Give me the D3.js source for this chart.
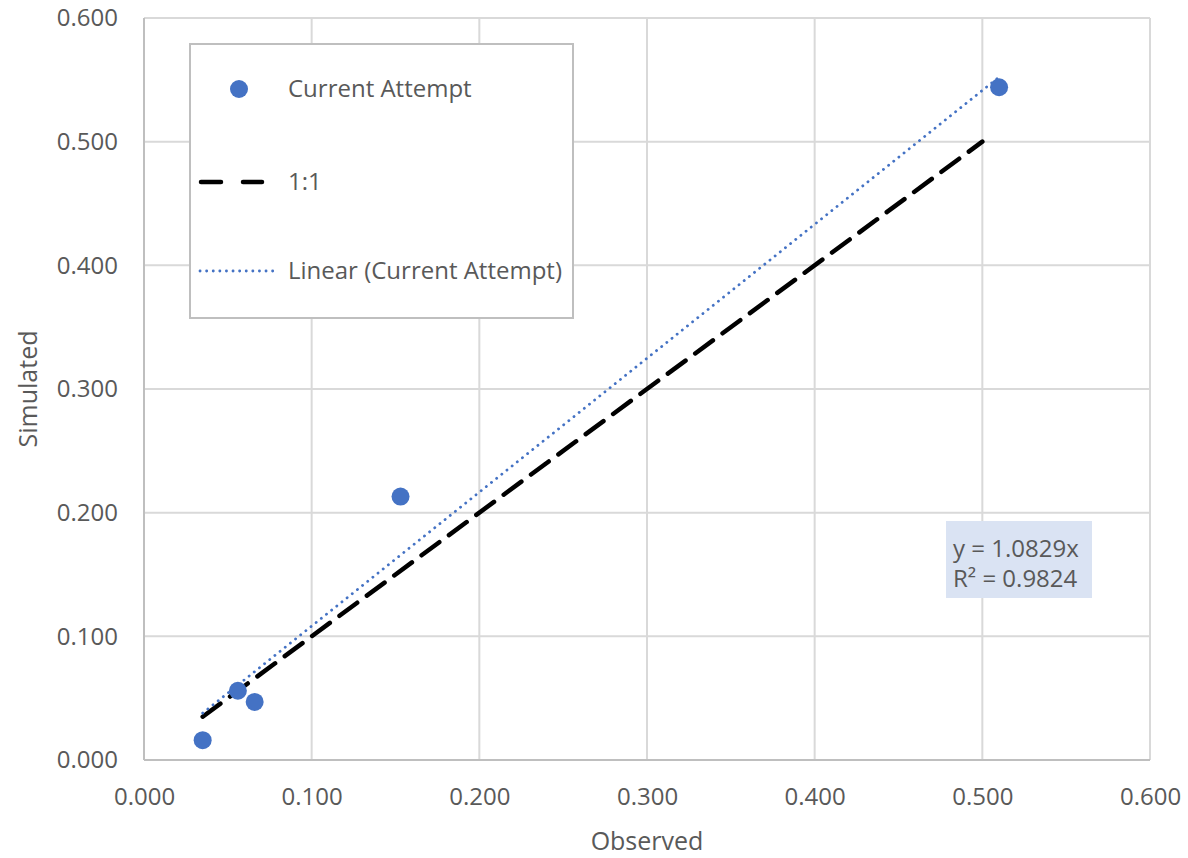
<!DOCTYPE html>
<html><head><meta charset="utf-8">
<script src="https://cdn.jsdelivr.net/npm/d3@7"></script>
<style>body{margin:0;background:#fff}</style>
</head><body>
<svg id="c" width="1188" height="858"></svg>
<script>
const observed = [0.035, 0.056, 0.066, 0.153, 0.510];
const simulated = [0.016, 0.056, 0.047, 0.213, 0.544];
const oneToOne = [0.035, 0.500];
const slope = 1.0829;
const xTicks = [0, 0.1, 0.2, 0.3, 0.4, 0.5, 0.6];
const yTicks = [0, 0.1, 0.2, 0.3, 0.4, 0.5, 0.6];
const legendLabels = ["Current Attempt", "1:1", "Linear (Current Attempt)"];
const eqLines = ["y = 1.0829x", "R\u00b2 = 0.9824"];

const svg = d3.select("#c");
const font = "'Open Sans', 'Noto Sans', sans-serif";
const L = 144, R = 1150, T = 18, B = 760;
const x = d3.scaleLinear().domain([0, 0.6]).range([L, R]);
const y = d3.scaleLinear().domain([0, 0.6]).range([B, T]);
const grid = "#d9d9d9", txt = "#595959", blue = "#4472c4";

// gridlines
svg.append("g").selectAll("line").data(xTicks).join("line")
  .attr("x1", d => x(d)).attr("x2", d => x(d)).attr("y1", T).attr("y2", B)
  .attr("stroke", grid).attr("stroke-width", 2);
svg.append("g").selectAll("line").data(yTicks).join("line")
  .attr("y1", d => y(d)).attr("y2", d => y(d)).attr("x1", L).attr("x2", R)
  .attr("stroke", grid).attr("stroke-width", 2);
// axis lines
svg.append("line").attr("x1", L).attr("x2", L).attr("y1", T).attr("y2", B).attr("stroke", "#bfbfbf").attr("stroke-width", 2);
svg.append("line").attr("x1", L).attr("x2", R).attr("y1", B).attr("y2", B).attr("stroke", "#bfbfbf").attr("stroke-width", 2);

// axes labels via d3 axis
const xa = svg.append("g").attr("transform", `translate(0,${B})`)
  .call(d3.axisBottom(x).tickValues(xTicks).tickFormat(d3.format(".3f")).tickSize(0).tickPadding(28));
const ya = svg.append("g").attr("transform", `translate(${L},0)`)
  .call(d3.axisLeft(y).tickValues(yTicks).tickFormat(d3.format(".3f")).tickSize(0).tickPadding(26));
[xa, ya].forEach(a => {
  a.select(".domain").remove();
  a.selectAll("text").attr("fill", txt).style("font-family", font).style("font-size", "24px");
});

// axis titles
svg.append("text").attr("x", (L + R) / 2).attr("y", 850).attr("text-anchor", "middle")
  .attr("fill", txt).style("font-family", font).style("font-size", "25px").text("Observed");
svg.append("text").attr("transform", `translate(37,${(T + B) / 2}) rotate(-90)`).attr("text-anchor", "middle")
  .attr("fill", txt).style("font-family", font).style("font-size", "25px").text("Simulated");

// 1:1 line
svg.append("line").attr("x1", x(oneToOne[0])).attr("y1", y(oneToOne[0]))
  .attr("x2", x(oneToOne[1])).attr("y2", y(oneToOne[1]))
  .attr("stroke", "#000").attr("stroke-width", 4.5).attr("stroke-dasharray", "22,12").attr("stroke-linecap", "round");

// trendline
const xMin = d3.min(observed), xMax = d3.max(observed);
svg.append("line").attr("x1", x(xMin)).attr("y1", y(slope * xMin))
  .attr("x2", x(xMax)).attr("y2", y(slope * xMax))
  .attr("stroke", blue).attr("stroke-width", 2.8).attr("stroke-dasharray", "0.1,6.5").attr("stroke-linecap", "round");

// points
svg.append("g").selectAll("circle").data(observed).join("circle")
  .attr("cx", d => x(d)).attr("cy", (d, i) => y(simulated[i])).attr("r", 9).attr("fill", blue);

// legend
const lg = svg.append("g");
lg.append("rect").attr("x", 190).attr("y", 44).attr("width", 383).attr("height", 274)
  .attr("fill", "#fff").attr("stroke", "#bfbfbf").attr("stroke-width", 2);
const ly = [89, 182, 271];
lg.append("circle").attr("cx", 239).attr("cy", ly[0]).attr("r", 9).attr("fill", blue);
lg.append("line").attr("x1", 201).attr("x2", 262).attr("y1", ly[1]).attr("y2", ly[1])
  .attr("stroke", "#000").attr("stroke-width", 4.5).attr("stroke-dasharray", "20,22").attr("stroke-linecap", "round");
lg.append("line").attr("x1", 200).attr("x2", 275).attr("y1", ly[2]).attr("y2", ly[2])
  .attr("stroke", blue).attr("stroke-width", 2.8).attr("stroke-dasharray", "0.1,6.5").attr("stroke-linecap", "round");
lg.selectAll("text").data(legendLabels).join("text")
  .attr("x", 288).attr("y", (d, i) => ly[i] + 8).attr("fill", txt)
  .style("font-family", font).style("font-size", "24px").text(d => d);

// equation box
svg.append("rect").attr("x", 946).attr("y", 521).attr("width", 146).attr("height", 77).attr("fill", "#dae3f3");
svg.append("g").selectAll("text").data(eqLines).join("text")
  .attr("x", 953).attr("y", (d, i) => 557 + i * 30).attr("fill", txt)
  .style("font-family", font).style("font-size", "24px").text(d => d);
</script>
</body></html>
